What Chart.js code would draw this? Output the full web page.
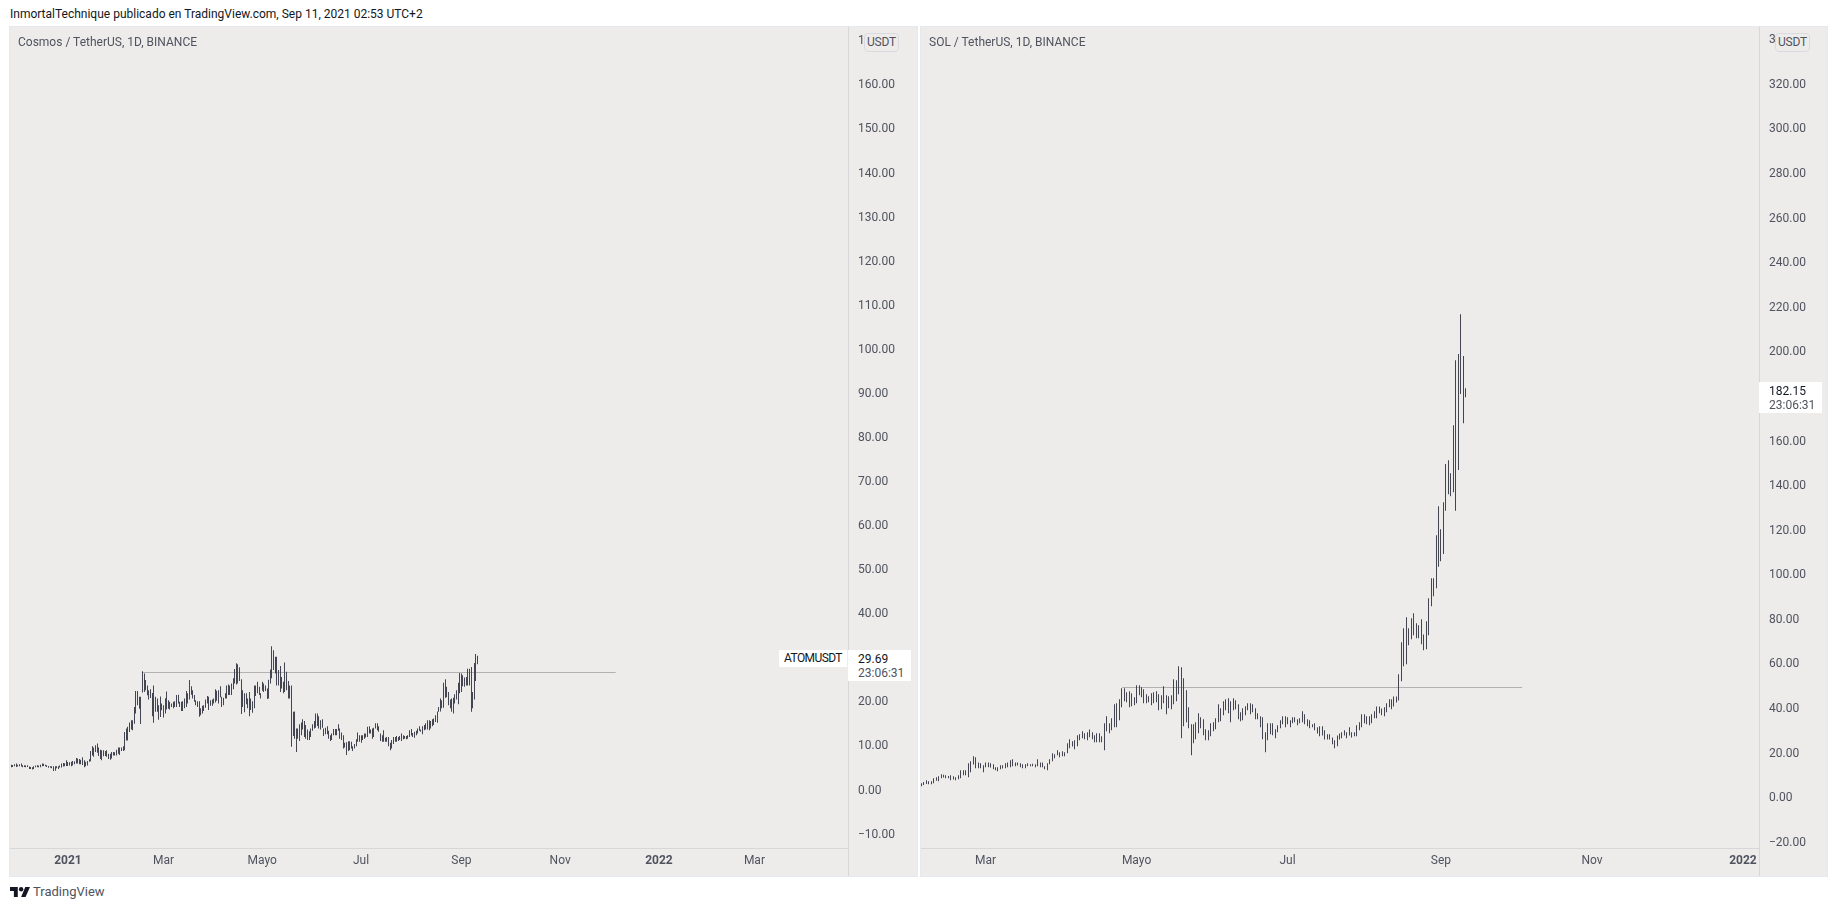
<!DOCTYPE html>
<html lang="es">
<head>
<meta charset="UTF-8">
<title>ATOMUSDT / SOLUSDT</title>
<script src="https://cdn.jsdelivr.net/npm/chart.js@4.4.1/dist/chart.umd.min.js"></script>
<style>
    html, body { margin: 0; padding: 0; background: #fff; width: 1837px; height: 910px; overflow: hidden; }
    body { font-family: Roboto, sans-serif; font-size: 12px; color: #50535e; }
    canvas { position: absolute; top: 27px; background: #edeceb; display: block; outline: 1px solid #e6e8ef; }
    #atom { left: 10px; }
    #sol { left: 921px; }
    .txt { position: absolute; white-space: nowrap; line-height: 14px; }
    .badge { position: absolute; top: 33px; width: 33px; height: 17px; line-height: 17px; text-align: center;
        background: #edeceb; border: 1px solid #d9dae0; border-radius: 4px; letter-spacing: -0.2px; }
    .tag { position: absolute; width: 63px; height: 31px; background: #fff; }
    .tag div { position: absolute; left: 10px; line-height: 14px; }
    .tag .price { top: 2px; color: #131722; }
    .tag .clock { top: 16px; color: #50535e; }
    #atomName { position: absolute; left: 779px; top: 650px; width: 68px; height: 17px; line-height: 17px;
        background: #fff; color: #131722; text-align: center; letter-spacing: -0.6px; }
    #logo { position: absolute; left: 10px; top: 887px; width: 20px; height: 10px; }
</style>
</head>
<body>
<div class="txt" style="left:10px;top:7px;color:#131722">InmortalTechnique publicado en TradingView.com, Sep 11, 2021 02:53 UTC+2</div>
<canvas id="atom" width="907" height="849"></canvas>
<canvas id="sol" width="906" height="849"></canvas>
<div class="txt" style="left:18px;top:35px">Cosmos / TetherUS, 1D, BINANCE</div>
<div class="txt" style="left:929px;top:35px">SOL / TetherUS, 1D, BINANCE</div>
<div class="badge" style="left:864px">USDT</div>
<div class="badge" style="left:1775px">USDT</div>
<div id="atomName">ATOMUSDT</div>
<div class="tag" style="left:848px;top:650px"><div class="price">29.69</div><div class="clock">23:06:31</div></div>
<div class="tag" style="left:1759px;top:382px"><div class="price">182.15</div><div class="clock">23:06:31</div></div>
<svg id="logo" viewBox="0 0 36 18"><path fill="#131722" d="M14 18H7V7H0V0h14v18zM28 18h-8l7.5-18H36L28 18z"/><circle fill="#131722" cx="20" cy="4" r="4"/></svg>
<div class="txt" style="left:33px;top:885px;font-size:13px">TradingView</div>

<script>
// days are counted from 2021-01-01
const atomFirstDay = -35;
const atomLows = [4.8,4.9,5.05,4.9,5.0,5.05,5.0,4.8,4.9,4.8,4.9,4.45,4.45,4.3,4.45,4.8,4.8,4.8,4.8,5.05,
    5.1,5.05,4.9,4.7,4.7,4.6,4.0,4.05,4.6,4.45,4.75,4.75,5.0,5.05,5.1,5.1,5.2,5.05,5.2,5.5,
    5.65,5.65,5.5,5.5,5.35,4.8,5.05,5.2,6.1,6.2,7.5,7.2,8.3,8.1,7.4,6.7,6.4,7.3,7.4,7.2,
    6.7,6.5,6.8,7.5,7.5,7.5,7.9,7.6,8.5,8.5,8.7,10.9,10.9,12.8,13.4,13.2,14.7,17.0,18.9,18.1,
    14.65,21.8,21.9,22.3,21.15,20.2,20.55,16.4,14.9,17.4,17.4,15.6,16.2,17.75,16.1,17.0,17.9,18.1,
    17.9,18.5,18.2,18.5,18.5,19.3,18.5,17.6,17.6,18.2,18.5,19.3,20.2,21.3,20.4,19.7,18.9,18.5,
    16.3,16.6,17.0,17.6,18.3,19.3,17.8,18.8,18.8,19.3,19.5,19.9,19.3,20.7,18.5,18.9,20.4,20.4,
    21.2,21.2,21.2,22.5,23.8,23.6,23.8,24.4,16.9,18.5,17.3,19.1,18.2,16.4,17.8,17.2,18.2,21.0,
    21.6,21.2,20.4,22.2,21.9,22.1,20.3,20.4,23.8,25.0,26.9,26.1,23.4,23.4,21.9,22.7,21.6,21.9,
    22.3,20.4,20.4,9.5,11.9,11.3,8.3,11.3,10.8,12.1,13.4,11.7,11.3,11.0,11.0,11.7,13.1,13.6,
    13.8,14.2,13.6,13.4,13.8,11.9,12.3,12.3,11.3,10.8,11.0,12.1,12.1,12.1,13.1,11.3,11.0,9.1,
    9.3,7.6,8.5,8.7,9.1,8.5,9.1,9.6,10.6,10.6,10.4,11.0,11.3,11.6,11.7,12.5,12.5,11.3,11.7,
    13.6,13.2,12.9,10.8,10.6,10.6,10.6,10.6,9.6,8.7,9.1,10.1,10.6,10.6,10.8,11.0,10.8,11.2,
    11.3,11.2,11.3,11.7,12.0,11.7,11.5,12.1,12.5,13.1,12.9,12.3,13.2,13.4,13.4,13.2,13.6,14.1,
    14.4,15.1,14.9,17.4,17.5,18.2,18.3,20.6,20.7,18.9,18.2,17.4,17.0,19.3,20.2,19.1,21.6,21.9,
    23.2,23.1,23.4,23.4,23.4,17.4,18.2,20.2,24.4,28.2];
const atomHighs = [5.4,5.35,5.5,5.65,5.4,5.5,5.65,5.3,5.3,5.2,5.3,5.0,4.9,4.8,5.05,5.2,5.3,5.2,5.4,5.65,
    5.6,5.4,5.3,5.1,5.05,5.05,5.05,5.05,5.05,5.05,5.2,5.65,5.8,5.75,6.4,6.0,5.95,6.1,6.25,6.2,
    6.9,6.8,6.7,6.55,7.1,6.4,6.1,6.25,6.65,8.5,9.6,9.3,9.8,10.2,9.3,8.8,8.7,8.7,8.5,8.7,
    7.9,7.9,8.3,8.3,8.2,8.8,9.3,9.3,9.3,9.6,12.8,13.6,14.0,15.0,15.5,15.5,18.5,22.1,22.1,20.8,
    20.8,26.6,26.1,24.6,23.4,22.3,22.5,21.7,23.4,20.8,20.4,18.9,20.9,19.3,18.9,20.5,22.0,20.0,
    19.7,19.3,19.7,19.8,21.2,21.3,19.7,19.7,19.8,20.4,22.1,21.6,24.6,23.2,22.3,21.2,20.0,19.8,
    19.8,18.2,18.8,18.9,20.2,21.0,20.8,20.0,20.2,20.4,22.5,22.2,22.3,23.2,20.8,20.6,21.6,23.4,
    23.6,23.4,23.8,25.0,27.1,28.4,28.2,27.5,24.8,22.3,21.6,21.6,20.4,21.9,20.4,19.8,23.4,23.4,
    24.2,23.1,21.6,24.2,23.8,23.4,22.7,24.7,27.0,32.3,31.4,29.9,29.9,26.9,27.8,25.3,24.2,28.6,
    26.5,24.4,23.4,23.4,17.4,17.5,13.6,13.6,14.6,15.0,15.7,15.3,14.4,13.4,13.0,13.6,14.6,15.3,
    17.0,17.0,16.4,15.5,15.7,13.6,13.8,14.1,13.1,12.1,12.5,13.5,13.5,13.5,14.6,13.6,12.7,12.1,
    10.4,10.5,10.7,10.7,10.6,9.6,10.1,11.2,12.7,12.1,12.1,12.1,12.5,12.5,14.0,14.1,13.4,13.6,13.8,
    14.8,14.8,14.1,12.5,12.1,13.2,11.5,11.7,11.7,10.4,11.0,11.7,11.7,11.9,11.7,11.9,12.5,12.1,
    11.9,11.9,12.1,13.2,13.5,12.6,12.9,13.1,13.6,14.1,13.4,14.1,14.4,14.8,15.5,15.5,15.3,15.7,
    15.9,16.6,17.5,18.5,20.4,20.0,24.0,24.8,23.1,21.9,20.2,20.4,20.6,21.4,22.3,24.0,26.2,26.1,
    25.7,25.2,25.3,27.2,27.2,27.6,21.9,28.5,30.5,30.1];

const solFirstDay = 33;
const solLows = [4.5,5.1,5.5,5.4,5.4,5.8,7.0,6.7,8.1,8.4,8.1,8.1,7.2,7.5,7.2,7.6,8.1,9.4,9.4,8.5,
    10.8,14.3,12.6,12.6,12.6,10.8,13.0,13.0,12.9,12.1,11.7,11.2,12.1,12.4,12.6,13.0,13.0,13.5,13.5,13.8,
    13.0,12.6,12.6,13.5,13.5,13.5,13.0,13.5,13.0,13.0,12.1,11.7,14.4,15.7,17.0,18.4,17.5,17.9,17.9,19.3,
    21.5,22.3,21.1,22.4,25.1,26.0,25.6,25.1,26.5,25.6,24.2,24.2,24.2,24.2,20.6,29.2,28.3,29.6,31.0,31.0,
    34.1,39.9,42.6,42.2,39.9,40.4,40.8,41.7,45.3,44.4,41.7,41.7,42.2,40.8,41.7,42.2,38.6,39.0,41.7,36.8,
    39.5,39.0,41.3,42.6,45.8,26.0,31.4,33.2,30.5,18.4,23.8,25.6,28.3,30.5,27.4,25.1,25.1,26.9,29.2,30.1,
    33.2,33.6,36.3,38.6,37.2,33.2,38.6,39.0,34.5,33.6,34.1,36.3,38.6,36.8,37.7,34.5,34.5,31.0,25.6,19.7,
    25.1,27.8,27.4,26.0,28.7,30.5,32.3,31.0,32.3,31.0,32.7,33.2,31.8,32.7,33.2,32.3,31.4,30.5,30.9,29.6,
    28.2,26.9,27.3,25.5,25.5,25.5,23.3,21.5,22.4,25.5,26.0,27.3,26.0,27.3,26.4,26.9,26.9,29.6,30.9,32.7,
    32.3,31.8,32.7,35.0,35.0,37.2,36.3,35.9,37.7,39.9,39.0,40.3,42.1,43.0,51.6,58.3,59.2,67.7,70.4,72.2,
    70.9,70.9,68.2,65.5,65.9,72.2,85.2,89.7,93.3,102.9,105.4,108.6,128.0,135.5,134.6,136.4,128.0,146.3,180.4,167.3,179.0];
const solHighs = [5.8,6.4,7.2,6.7,6.7,8.1,8.5,9.0,9.9,9.7,9.4,9.1,9.4,9.0,8.5,9.4,11.7,11.7,11.7,14.8,
    15.7,17.9,17.5,15.2,14.8,13.9,15.2,15.2,14.8,14.4,13.0,13.0,13.9,13.9,14.8,15.2,16.1,16.6,15.2,15.2,
    14.8,14.4,14.4,14.8,14.4,14.6,14.4,16.6,15.2,15.2,13.5,14.8,16.6,19.3,18.8,20.6,19.7,20.2,19.7,23.8,
    25.6,24.7,25.1,27.4,27.8,29.2,28.3,28.7,30.0,28.7,27.4,28.3,28.3,26.9,32.7,35.9,32.7,35.0,41.3,41.7,
    43.5,48.5,48.5,46.7,47.1,46.2,44.4,49.8,49.8,48.9,48.0,45.8,44.9,46.2,46.7,47.1,45.8,45.3,49.3,45.3,
    44.9,45.3,52.5,52.0,58.3,57.9,52.9,47.6,39.9,32.3,32.3,33.2,37.2,35.4,34.5,30.1,29.6,32.7,33.2,35.0,
    41.3,39.5,42.6,43.5,44.0,42.6,44.0,43.1,41.3,37.7,39.5,40.4,41.7,41.7,41.3,39.5,37.2,35.9,35.4,28.7,
    32.7,32.7,32.7,30.1,31.9,34.1,35.9,35.9,35.4,34.1,35.4,35.4,34.5,35.0,38.1,36.8,34.5,34.1,32.3,32.7,
    30.9,31.4,31.4,29.6,27.8,27.8,26.4,25.1,27.3,28.2,28.7,29.6,28.7,30.9,28.7,28.7,31.8,33.2,36.8,36.8,
    35.9,35.9,36.8,38.1,40.3,40.3,39.4,39.9,41.7,43.5,43.5,44.8,44.8,54.7,69.1,75.3,80.3,75.3,79.8,82.1,
    77.6,76.7,79.4,72.6,78.5,88.8,97.8,97.8,117.1,130.1,119.8,131.9,149.0,150.7,144.9,166.4,195.6,198.3,216.2,197.4,183.0];

// horizontal level drawn on each chart
const atomLevelDays = [45.5, 338.3];
const atomLevelPrice = 26.3;
const solLevelDays = [114.2, 275.8];
const solLevelPrice = 48.8;

// x axis
const atomTickDays = [0, 59, 120, 181, 243, 304, 365, 424];
const atomTickLabels = ['2021', 'Mar', 'Mayo', 'Jul', 'Sep', 'Nov', '2022', 'Mar'];
const solTickDays = [59, 120, 181, 243, 304, 365];
const solTickLabels = ['Mar', 'Mayo', 'Jul', 'Sep', 'Nov', '2022'];

const BAR_COLOR = '#434651';
const LEVEL_COLOR = '#b2b0b0';
const AXIS_COLOR = '#d8d7d7';
const TEXT_COLOR = '#50535e';
const FONT = 'Roboto, sans-serif';

// the price axis line runs on down through the time axis
const axisStub = {
    id: 'axisStub',
    afterDraw(chart) {
        const c = chart.ctx, x = Math.round(chart.chartArea.right) + 0.5;
        c.save();
        c.strokeStyle = AXIS_COLOR;
        c.beginPath();
        c.moveTo(x, chart.chartArea.bottom);
        c.lineTo(x, chart.height);
        c.stroke();
        c.restore();
    }
};

// keep the 1px bars and the level line on whole pixels so they stay sharp
const pixelSnap = {
    id: 'pixelSnap',
    afterDatasetsUpdate(chart) {
        chart.getDatasetMeta(1).data.forEach(b => { b.x = Math.floor(b.x) + 0.5; });
        chart.getDatasetMeta(0).data.forEach(p => { p.y = Math.floor(p.y) + 0.5; });
    }
};

function makeChart(id, o) {
    const bars = o.lows.map((l, i) => ({ x: o.firstDay + i, y: [l, o.highs[i]] }));
    const level = o.levelDays.map(d => ({ x: d, y: o.levelPrice }));
    const isYear = c => c.tick && /^\d/.test(o.tickLabels[o.tickDays.indexOf(c.tick.value)]);
    return new Chart(document.getElementById(id), {
        type: 'bar',
        data: {
            datasets: [
                { type: 'line', data: level, borderColor: LEVEL_COLOR, borderWidth: 1, pointRadius: 0, order: 2 },
                { data: bars, backgroundColor: BAR_COLOR, barThickness: o.barWidth, inflateAmount: 0, order: 1 }
            ]
        },
        options: {
            responsive: false,
            animation: false,
            layout: { padding: 0, autoPadding: false },
            plugins: { legend: { display: false }, tooltip: { enabled: false }, title: { display: false } },
            scales: {
                x: {
                    type: 'linear',
                    offset: false,
                    min: o.xMin,
                    max: o.xMax,
                    grid: { display: false, drawTicks: false },
                    border: { color: AXIS_COLOR },
                    afterFit(s) { s.height = 28; s.paddingLeft = 0; s.paddingRight = 0; },
                    afterBuildTicks(s) { s.ticks = o.tickDays.map(v => ({ value: v })); },
                    ticks: {
                        autoSkip: false,
                        maxRotation: 0,
                        padding: 6,
                        color: TEXT_COLOR,
                        font: c => ({ family: FONT, size: 12, weight: isYear(c) ? 'bold' : 'normal' }),
                        callback: v => o.tickLabels[o.tickDays.indexOf(v)]
                    }
                },
                y: {
                    position: 'right',
                    min: o.yMin,
                    max: o.yMax,
                    grid: { display: false, drawTicks: false },
                    border: { color: AXIS_COLOR },
                    afterFit(s) { s.width = o.axisWidth; s.paddingTop = 0; s.paddingBottom = 0; },
                    ticks: {
                        stepSize: o.yStep,
                        includeBounds: false,
                        labelOffset: 2,
                        padding: 10,
                        color: TEXT_COLOR,
                        font: { family: FONT, size: 12 },
                        callback: v => (v < 0 ? '\u2212' : '') + Math.abs(v).toFixed(2)
                    }
                }
            }
        },
        plugins: [axisStub, pixelSnap]
    });
}

makeChart('atom', {
    lows: atomLows, highs: atomHighs, firstDay: atomFirstDay, barWidth: 1,
    levelDays: atomLevelDays, levelPrice: atomLevelPrice,
    tickDays: atomTickDays, tickLabels: atomTickLabels,
    xMin: -35.8, xMax: 481.8, yMin: -13.5, yMax: 172.8, yStep: 10, axisWidth: 69
});
makeChart('sol', {
    lows: solLows, highs: solHighs, firstDay: solFirstDay, barWidth: 1,
    levelDays: solLevelDays, levelPrice: solLevelPrice,
    tickDays: solTickDays, tickLabels: solTickLabels,
    xMin: 32.9, xMax: 371.5, yMin: -23.2, yMax: 345, yStep: 20, axisWidth: 68
});
</script>
</body>
</html>
